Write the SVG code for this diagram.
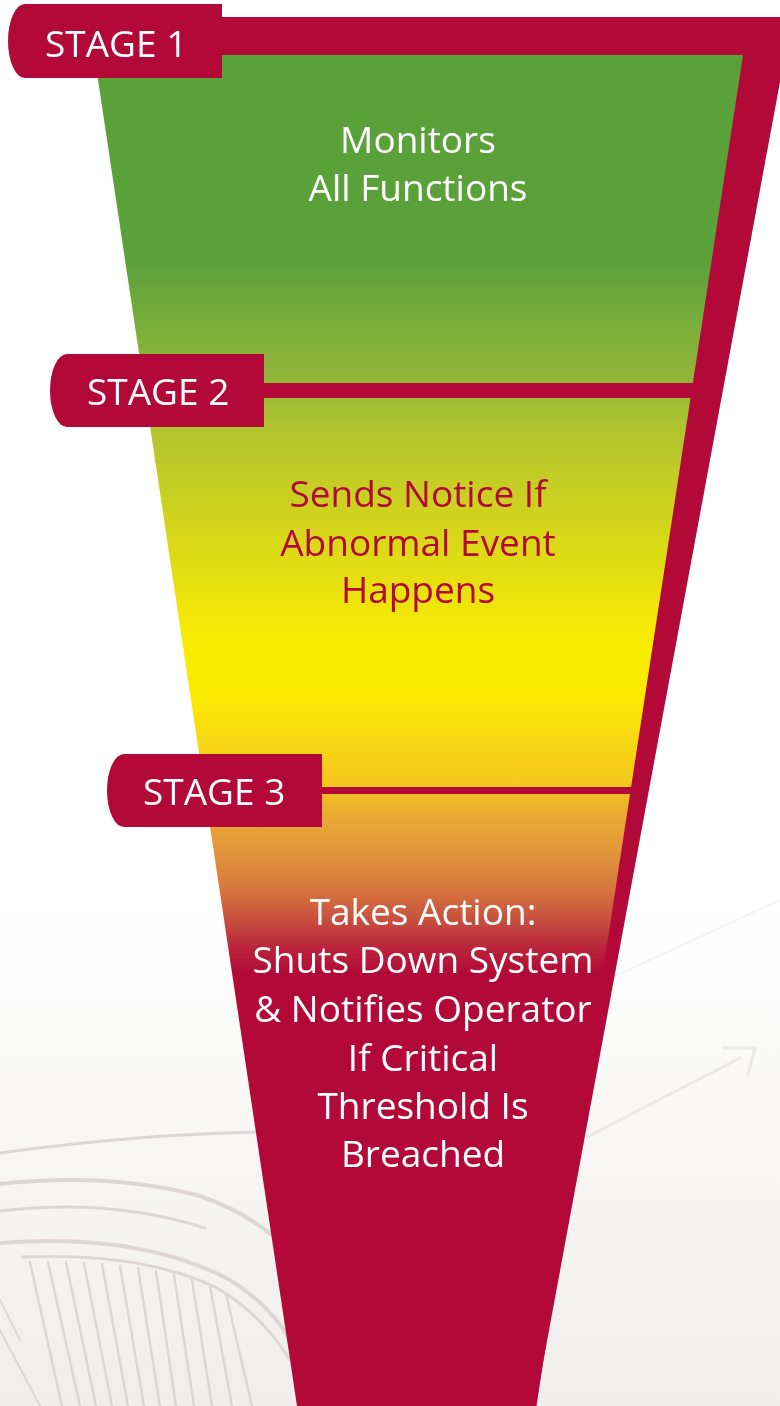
<svg xmlns="http://www.w3.org/2000/svg" width="780" height="1406" viewBox="0 0 780 1406">
  <defs>
    <linearGradient id="bgGrad" gradientUnits="userSpaceOnUse" x1="0" y1="900" x2="0" y2="1406">
      <stop offset="0" stop-color="#ffffff"/>
      <stop offset="0.5" stop-color="#f7f6f5"/>
      <stop offset="1" stop-color="#f0eeed"/>
    </linearGradient>
    <linearGradient id="funnelGrad" gradientUnits="userSpaceOnUse" x1="0" y1="55" x2="0" y2="1406">
      <stop offset="0" stop-color="#5ba13a"/>
      <stop offset="0.155" stop-color="#5ba13a"/>
      <stop offset="0.2" stop-color="#7aae3a"/>
      <stop offset="0.245" stop-color="#95b836"/>
      <stop offset="0.27" stop-color="#abc230"/>
      <stop offset="0.31" stop-color="#c2cc26"/>
      <stop offset="0.36" stop-color="#d9d818"/>
      <stop offset="0.41" stop-color="#efe508"/>
      <stop offset="0.44" stop-color="#fbed00"/>
      <stop offset="0.475" stop-color="#fbea00"/>
      <stop offset="0.505" stop-color="#f8d812"/>
      <stop offset="0.54" stop-color="#f3c61f"/>
      <stop offset="0.565" stop-color="#eaa834"/>
      <stop offset="0.59" stop-color="#e2953a"/>
      <stop offset="0.615" stop-color="#d77a3d"/>
      <stop offset="0.64" stop-color="#c8503e"/>
      <stop offset="0.66" stop-color="#ba263b"/>
      <stop offset="0.68" stop-color="#b20938"/>
      <stop offset="1" stop-color="#b20938"/>
    </linearGradient>
    <style>
      .crimson { fill: #b20938; }
      .tabtext { font-family: "Open Sans", "Noto Sans", "Liberation Sans", sans-serif; font-size: 37px; fill: #ffffff; }
      .body { font-family: "Open Sans", "Noto Sans", "Liberation Sans", sans-serif; font-size: 37px; text-anchor: middle; }
      .white { fill: #ffffff; }
      .red { fill: #b20938; }
      .deco { fill: none; stroke: #dcd7d6; stroke-linecap: round; }
    </style>
  </defs>

  <g id="background">
    <rect x="0" y="0" width="780" height="1406" fill="#ffffff"/>
    <rect x="0" y="900" width="780" height="506" fill="url(#bgGrad)"/>
    <g class="deco" stroke-width="3">
      <path d="M0,1153 Q130,1135 255,1132"/>
      <path d="M0,1184 Q110,1172 200,1196 Q245,1212 270,1234" stroke-width="4"/>
      <path d="M0,1211 Q110,1198 205,1228"/>
      <path d="M0,1243 Q140,1232 230,1280 Q270,1305 290,1340" stroke-width="4"/>
      <path d="M22,1257 Q140,1252 215,1287 Q260,1312 290,1360"/>
      <path d="M30,1262 L62,1406 M48,1262 L80,1406 M66,1262 L96,1406 M84,1263 L112,1406 M102,1264 L128,1406 M120,1266 L144,1406 M138,1268 L160,1406 M156,1271 L176,1406 M174,1275 L194,1406 M192,1280 L212,1406 M210,1286 L232,1406 M226,1294 L252,1406" stroke-width="2.5"/>
      <path d="M0,1330 L40,1406 M0,1300 L20,1340" stroke-width="2"/>
    </g>
    <g class="deco" stroke-width="3" opacity="0.5">
      <path d="M587,1137 L740,1058"/>
      <path d="M723,1048 L755,1048 L748,1075"/>
      <path d="M613,977 L780,900" stroke-width="2" opacity="0.5"/>
    </g>
  </g>

  <g id="funnel">
    <polygon class="crimson" points="200,17 792,17 535,1406 450,1406 200,55"/>
    <polygon fill="url(#funnelGrad)" points="94.3,55 743,55 536.5,1406 297,1406"/>
  </g>

  <g id="connectors">
    <rect class="crimson" x="250" y="383" width="460" height="15"/>
    <rect class="crimson" x="310" y="787" width="330" height="7"/>
  </g>

  <g id="stage1">
    <path class="crimson" d="M25,4 H222 V78 H25 A17 37 0 0 1 25,4 Z"/>
    <text class="tabtext" x="45" y="57">STAGE 1</text>
  </g>
  <g id="stage2">
    <path class="crimson" d="M67,354 H264 V427 H67 A17 36.5 0 0 1 67,354 Z"/>
    <text class="tabtext" x="87" y="405">STAGE 2</text>
  </g>
  <g id="stage3">
    <path class="crimson" d="M124,754 H322 V827 H124 A17 36.5 0 0 1 124,754 Z"/>
    <text class="tabtext" x="143" y="805">STAGE 3</text>
  </g>

  <g id="stage1-text">
    <text class="body white" x="418" y="153">Monitors</text>
    <text class="body white" x="418" y="201">All Functions</text>
  </g>
  <g id="stage2-text">
    <text class="body red" x="418" y="507">Sends Notice If</text>
    <text class="body red" x="418" y="556">Abnormal Event</text>
    <text class="body red" x="418" y="603">Happens</text>
  </g>
  <g id="stage3-text">
    <text class="body white" x="423" y="925">Takes Action:</text>
    <text class="body white" x="423" y="973">Shuts Down System</text>
    <text class="body white" x="423" y="1022">&amp; Notifies Operator</text>
    <text class="body white" x="423" y="1071">If Critical</text>
    <text class="body white" x="423" y="1119">Threshold Is</text>
    <text class="body white" x="423" y="1167">Breached</text>
  </g>
</svg>
